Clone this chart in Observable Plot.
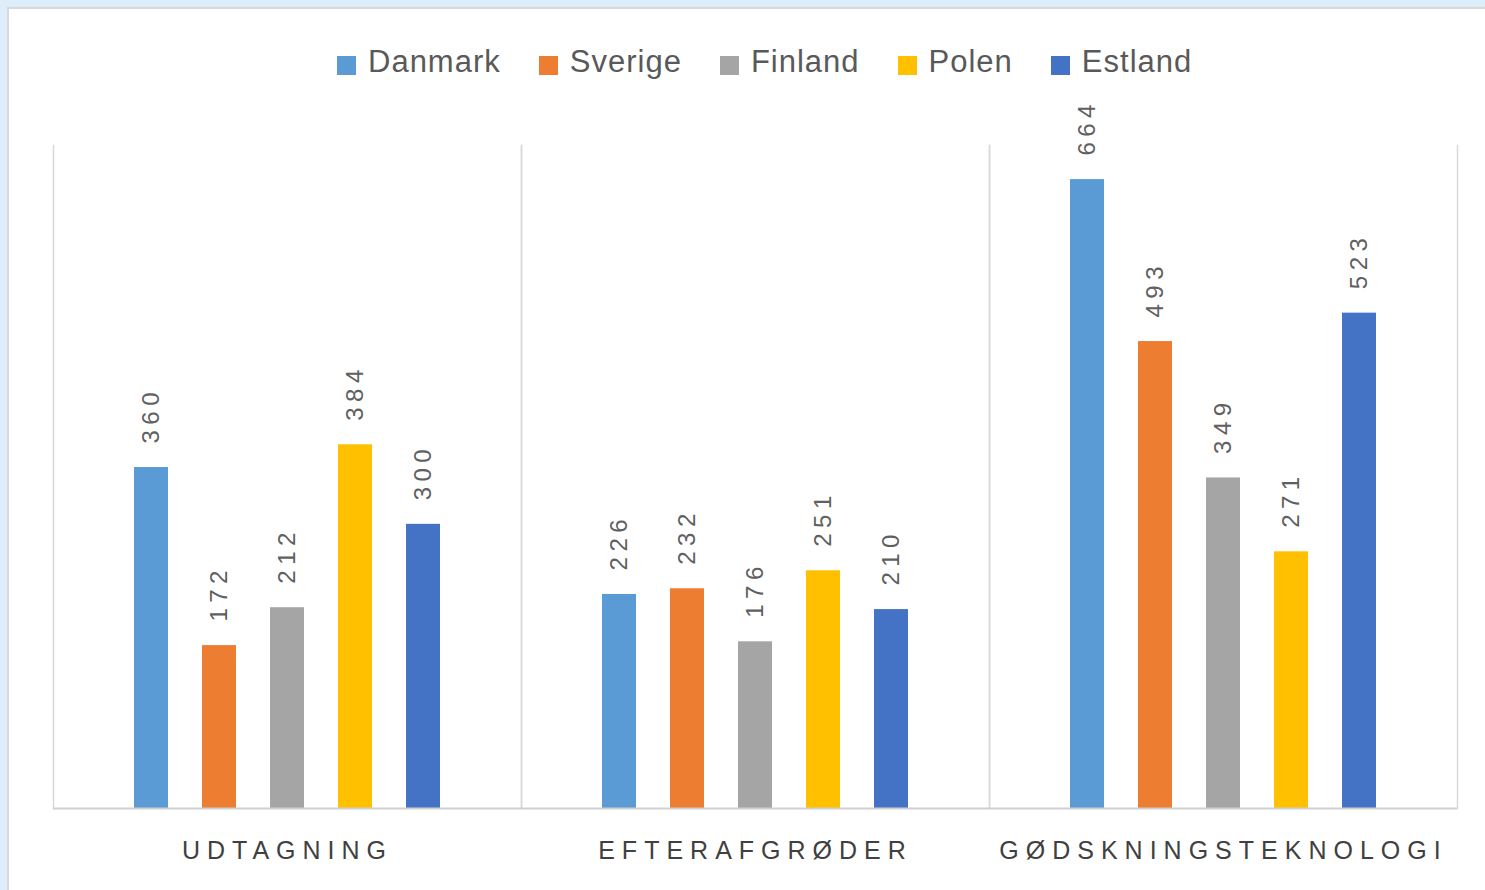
<!DOCTYPE html>
<html>
<head>
<meta charset="utf-8">
<script src="https://cdn.jsdelivr.net/npm/d3@7"></script>
<script src="https://cdn.jsdelivr.net/npm/@observablehq/plot@0.6"></script>
<style>
  html, body { margin: 0; padding: 0; }
  #wrap { position: relative; width: 1485px; height: 890px; background: #ddeefa; overflow: hidden; font-family: "Liberation Sans", Arial, sans-serif; }
  #panel { position: absolute; left: 7px; top: 7px; right: 0; bottom: 0; background: #ffffff; border-top: 2px solid #d8d8d8; border-left: 2px solid #d8d8d8; }
  #chart { position: absolute; left: 0; top: 0; }
  #legend { position: absolute; left: 337px; top: 44px; display: flex; align-items: center; gap: 38px; font-size: 31px; color: #595959; letter-spacing: 1px; }
  #legend .item { display: flex; align-items: center; gap: 12px; }
  #legend .sw { width: 19px; height: 19px; display: inline-block; margin-top: 6px; }
</style>
</head>
<body>
<div id="wrap">
  <div id="panel"></div>
  <div id="chart"></div>
  <div id="legend"></div>
</div>
<script>
const categories = ["UDTAGNING", "EFTERAFGRØDER", "GØDSKNINGSTEKNOLOGI"];
const countries = ["Danmark", "Sverige", "Finland", "Polen", "Estland"];
const colors = ["#5B9BD5", "#ED7D31", "#A5A5A5", "#FFC000", "#4472C4"];
const udtagning = [360, 172, 212, 384, 300];
const efterafgroder = [226, 232, 176, 251, 210];
const godskning = [664, 493, 349, 271, 523];

const seriesByCat = [udtagning, efterafgroder, godskning];
const data = [];
categories.forEach((c, i) => countries.forEach((k, j) => data.push({cat: c, country: k, value: seriesByCat[i][j]})));

const chart = Plot.plot({
  width: 1485,
  height: 890,
  marginLeft: 53,
  marginRight: 28,
  marginTop: 145,
  marginBottom: 82,
  style: {background: "transparent", fontFamily: "Liberation Sans, Arial, sans-serif", color: "#595959"},
  fx: {domain: categories, padding: 0, label: null},
  x: {domain: countries, paddingInner: 0.5, paddingOuter: 1.19, axis: null},
  y: {domain: [0, 700], axis: null},
  color: {domain: countries, range: colors},
  marks: [
    Plot.frame({anchor: "left", stroke: "#d9d9d9", strokeWidth: 1.5}),
    Plot.frame({anchor: "right", stroke: "#d9d9d9", strokeWidth: 1.5}),
    Plot.barY(data, {fx: "cat", x: "country", y: "value", fill: "country"}),
    Plot.ruleY([0], {stroke: "#d0d0d0", strokeWidth: 2}),
    Plot.text(data, {fx: "cat", x: "country", y: "value", text: d => String(d.value), rotate: -90, textAnchor: "start", dy: -24, fontSize: 24, fill: "#606060"}),
    Plot.axisFx({anchor: "bottom", tickSize: 0, tickPadding: 33, fontSize: 25, label: null, fill: "#404040"})
  ]
});
d3.select(chart).selectAll("text").filter(function() { return this.closest("[aria-label='text']"); }).attr("letter-spacing", "5.5px");
d3.select(chart).select("[aria-label='fx-axis tick label']").attr("letter-spacing", "7px");
document.getElementById("chart").appendChild(chart);

const legend = d3.select("#legend");
countries.forEach((k, i) => {
  const it = legend.append("div").attr("class", "item");
  it.append("span").attr("class", "sw").style("background", colors[i]);
  it.append("span").text(k);
});
</script>
</body>
</html>
